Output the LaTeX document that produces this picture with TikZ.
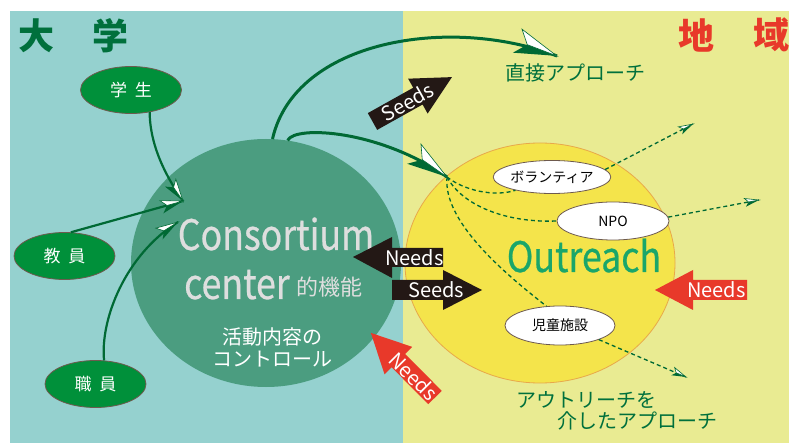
\documentclass[tikz,border=0pt]{standalone}
\usepackage{fontspec}
\usepackage{graphicx}
\setmainfont{Noto Sans CJK JP}
\newfontfamily\medfont[FakeBold=0.6]{Noto Sans CJK JP}
\usetikzlibrary{shapes.geometric,decorations.markings}
\definecolor{bgteal}{HTML}{95D1CF}
\definecolor{bgyellow}{HTML}{E9EB92}
\definecolor{circgreen}{HTML}{4B9D80}
\definecolor{circyellow}{HTML}{F4E44B}
\definecolor{circorange}{HTML}{E8A84A}
\definecolor{nodegreen}{HTML}{00903A}
\definecolor{nodeborder}{HTML}{6E5A4E}
\definecolor{arrgreen}{HTML}{006934}
\definecolor{titlegreen}{HTML}{00703C}
\definecolor{titlered}{HTML}{E8392A}
\definecolor{arrblack}{HTML}{231815}
\definecolor{arrred}{HTML}{E8392A}
\definecolor{outgreen}{HTML}{1AA66A}
\definecolor{graytxt}{HTML}{DEDEDE}
\newcommand\mycond[2]{\scalebox{0.85}[1]{\medfont\fontsize{#1}{#1}\selectfont #2}}
\newcommand\featherhead[1]{%
  \fill[arrgreen] (0pt,0pt) -- (-#1pt,-0.3*#1pt) -- (-0.75*#1pt,0pt) -- cycle;
  \filldraw[fill=white,draw=arrgreen,line width=0.6pt,solid,line join=miter] (0pt,0pt) -- (-#1pt,0.3*#1pt) -- (-0.75*#1pt,0pt) -- cycle;}
\tikzset{
  feather/.style={postaction={decorate,decoration={markings,mark=at position 0.999 with {\featherhead{#1}}}}},
  gnode/.style={ellipse, fill=nodegreen, draw=nodeborder, line width=0.8pt, minimum width=101pt, minimum height=47pt, inner sep=0pt, text=white, font=\fontsize{17}{17}\selectfont},
  wnode/.style={ellipse, fill=white, draw=nodeborder, line width=0.8pt, inner sep=0pt, text=black, font=\fontsize{14}{14}\selectfont},
  conn/.style={draw=arrgreen, line width=2.2pt},
  bigconn/.style={draw=arrgreen, line width=3pt},
  dconn/.style={draw=arrgreen, line width=1.3pt, dash pattern=on 4pt off 3pt},
  arrtxt/.style={text=white, inner sep=0pt, font=\fontsize{20}{20}\selectfont},
  titletxt/.style={inner sep=0pt, font=\fontsize{36}{36}\selectfont\bfseries},
  jptxt/.style={inner sep=0pt, font=\fontsize{20}{20}\selectfont},
}
\begin{document}
\begin{tikzpicture}[x=1pt,y=-1pt]
\useasboundingbox (0,0) rectangle (789,443);
\fill[white] (0,0) rectangle (789,443);
\fill[bgteal] (10,11) rectangle (403,443);
\fill[bgyellow] (403,11) rectangle (789,443);

% circles
\node[ellipse, fill=circgreen, minimum width=270pt, minimum height=248pt, inner sep=0pt] (cc) at (266,263) {};
\node[ellipse, fill=circyellow, draw=circorange, line width=0.8pt, minimum width=270pt, minimum height=240pt, inner sep=0pt] (out) at (540,263) {};

% titles
\node[titletxt, text=titlegreen] (dai) at (36,36) {大};
\node[titletxt, text=titlegreen] (gaku) at (110,36) {学};
\node[titletxt, text=titlered] (chi) at (696,35) {地};
\node[titletxt, text=titlered] (iki) at (771,35) {域};

% circle texts
\node[inner sep=0pt, text=graytxt, anchor=base] (cons) at (276,250) {\mycond{42}{Consortium}};
\node[inner sep=0pt, text=graytxt, anchor=base west] (cen) at (184,299) {\mycond{42}{center}};
\node[inner sep=0pt, text=graytxt, anchor=base west, font=\fontsize{22}{22}\selectfont] (kino) at (296,296) {的機能};
\node[jptxt, text=white] (kat1) at (272,337) {活動内容の};
\node[jptxt, text=white] (kat2) at (272,359) {コントロール};
\node[inner sep=0pt, text=outgreen, anchor=base] (outr) at (584,272) {\mycond{42}{Outreach}};

% other labels
\node[jptxt, text=titlegreen] (direct) at (575.5,72.5) {直接アプローチ};
\node[jptxt, text=titlegreen, anchor=west] (ap1) at (516,400) {アウトリーチを};
\node[jptxt, text=titlegreen, anchor=west] (ap2) at (557,421) {介したアプローチ};

% left nodes
\node[gnode] (gs) at (131,90) {学\hspace{8pt}生};
\node[gnode] (ky) at (64.5,256) {教\hspace{8pt}員};
\node[gnode] (sy) at (95.5,384) {職\hspace{8pt}員};

% right nodes
\node[wnode, minimum width=110pt, minimum height=33pt] (vol) at (552,177) {ボランティア};
\node[wnode, minimum width=112pt, minimum height=38pt] (npo) at (613,221) {NPO};
\node[wnode, minimum width=110pt, minimum height=39pt] (chl) at (560,325.5) {児童施設};

% coordinates
\coordinate (in1) at (183,201);
\coordinate (in3) at (178,222);
\coordinate (dtip) at (557,56);
\coordinate (hub) at (447,177);
\coordinate (e1) at (693,124);
\coordinate (e2) at (759,200);
\coordinate (e3) at (686,377);

% connectors into the consortium
\draw[conn, feather=22] (gs.-50) .. controls (150,145) and (165,175) .. (in1);
\draw[conn, feather=22] (ky.75) -- (in1);
\draw[conn, feather=22] (sy.70) .. controls (100,320) and (125,255) .. (in3);

% top connectors
\draw[bigconn, feather=42] (cc.87) .. controls (295,40) and (450,15) .. (dtip);
\draw[bigconn, feather=40] (cc.80) .. controls (295,125) and (380,130) .. (hub);

% dashed connectors
\draw[dconn] (hub) .. controls (465,191) and (495,197) .. (vol.200);
\draw[dconn] (hub) .. controls (462,205) and (505,223) .. (npo.west);
\draw[dconn] (hub) .. controls (443,220) and (500,270) .. (chl.125);
\draw[dconn, feather=14] (vol.8) -- (e1);
\draw[dconn, feather=14] (npo.4) -- (e2);
\draw[dconn, feather=14] (chl.-20) -- (e3);

% Needs / Seeds arrows
\fill[arrblack] (353,257) -- (392,237) -- (392,248) -- (443,248) -- (443,267) -- (392,267) -- (392,278) -- cycle;
\node[arrtxt] (needs1) at (414.5,257.5) {Needs};
\fill[arrblack] (392,280) -- (443,280) -- (443,270) -- (482,290) -- (443,310) -- (443,300) -- (392,300) -- cycle;
\node[arrtxt] (seeds1) at (436,290) {Seeds};
\fill[arrred] (655,290) -- (693,270) -- (693,280) -- (747,280) -- (747,300) -- (693,300) -- (693,310) -- cycle;
\node[arrtxt] (needs2) at (716.5,290) {Needs};
\begin{scope}[shift={(372.5,121.5)}, rotate=29.2]
\fill[arrblack] (0,-9.6) -- (52,-9.6) -- (52,-20) -- (91,0) -- (52,20) -- (52,9.6) -- (0,9.6) -- cycle;
\end{scope}
\node[arrtxt, rotate=29.2] (seeds2) at (407.5,102) {Seeds};
\begin{scope}[shift={(435,397.5)}, rotate=134.8]
\fill[arrred] (0,-9.5) -- (52,-9.5) -- (52,-19.5) -- (91,0) -- (52,19.5) -- (52,9.5) -- (0,9.5) -- cycle;
\end{scope}
\node[arrtxt, rotate=-45.2] (needs3) at (413.8,376.2) {Needs};
\end{tikzpicture}
\end{document}
